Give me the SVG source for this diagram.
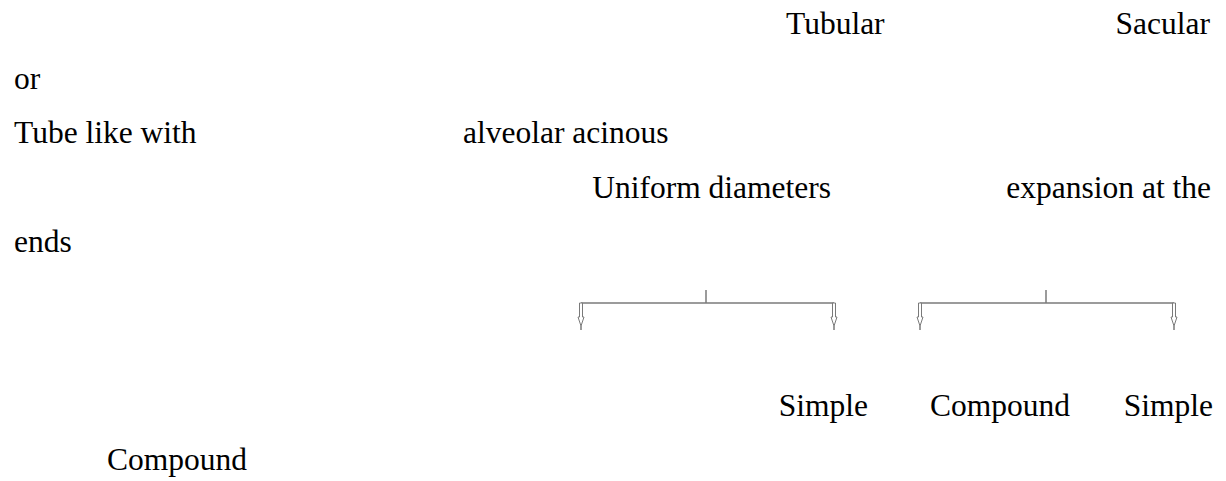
<svg xmlns="http://www.w3.org/2000/svg" width="1226" height="481" viewBox="0 0 1226 481">
<style>
.t{font-family:"Liberation Serif","Times New Roman","DejaVu Serif",serif;font-size:31.5px;fill:#000}
.c{stroke:#7a7a7a;stroke-width:1.5;fill:none}
.a{stroke:#7a7a7a;stroke-width:1;fill:#fff}
</style>
<defs>
<g id="arr">
<path class="a" d="M-1.5,0 V14 H-3 L0,23 L3,14 H1.5 V0 Z"/>
<line class="c" x1="0" y1="23" x2="0" y2="27"/>
</g>
</defs>
<rect width="1226" height="481" fill="#fff"/>
<g id="text" font-family="Liberation Serif, Times New Roman, serif">
<text class="t" x="786" y="34">Tubular</text>
<text class="t" x="1210" y="34" text-anchor="end">Sacular</text>
<text class="t" x="14" y="88.5">or</text>
<text class="t" x="14" y="143">Tube like with</text>
<text class="t" x="463" y="143">alveolar acinous</text>
<text class="t" x="831" y="197.5" text-anchor="end">Uniform diameters</text>
<text class="t" x="1211" y="197.5" text-anchor="end">expansion at the</text>
<text class="t" x="14" y="252">ends</text>
<text class="t" x="868" y="415.5" text-anchor="end">Simple</text>
<text class="t" x="930" y="415.5">Compound</text>
<text class="t" x="1213" y="415.5" text-anchor="end">Simple</text>
<text class="t" x="107" y="470">Compound</text>
</g>
<g id="connectors">
<g id="bracket1">
<line class="c" x1="706" y1="290" x2="706" y2="303"/>
<line class="c" x1="581" y1="303" x2="834" y2="303"/>
<use href="#arr" x="581" y="303"/>
<use href="#arr" x="834" y="303"/>
</g>
<g id="bracket2">
<line class="c" x1="1046" y1="290" x2="1046" y2="303"/>
<line class="c" x1="920" y1="303" x2="1174" y2="303"/>
<use href="#arr" x="920" y="303"/>
<use href="#arr" x="1174" y="303"/>
</g>
</g>
</svg>
